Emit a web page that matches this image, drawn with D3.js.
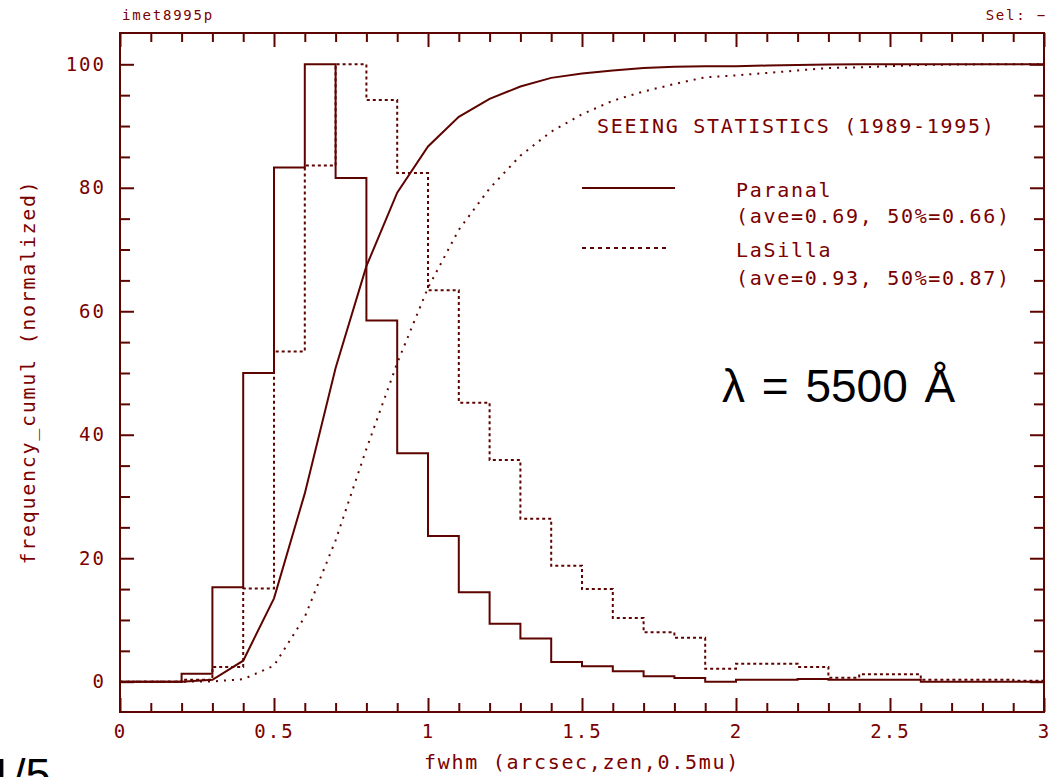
<!DOCTYPE html>
<html>
<head>
<meta charset="utf-8">
<script src="https://cdn.jsdelivr.net/npm/d3@7"></script>
<style>
  body { margin: 0; background: #fff; }
  svg { display: block; }
  .mono { font-family: "DejaVu Sans Mono", "Liberation Mono", monospace; fill: #7a0000; }
</style>
</head>
<body>
<div class="seeing"></div>
<script>
// bin edges (arcsec)
const binEdges = [0, 0.1, 0.2, 0.3, 0.4, 0.5, 0.6, 0.7, 0.8, 0.9, 1.0, 1.1, 1.2, 1.3, 1.4, 1.5,
    1.6, 1.7, 1.8, 1.9, 2.0, 2.1, 2.2, 2.3, 2.4, 2.5, 2.6, 2.7, 2.8, 2.9, 3.0];

// histogram per bin (normalized to 100)
const paranalHist = [0, 0, 1.3, 15.3, 50, 83.3, 100, 81.6, 58.5, 37, 23.6, 14.5, 9.4, 7, 3.2,
    2.5, 1.7, 0.9, 0.6, 0, 0.3, 0.3, 0.45, 0.3, 0.3, 0.3, 0, 0, 0, 0];
const lasillaHist = [0, 0, 0.3, 2.4, 15.1, 53.5, 83.6, 100, 94.2, 82.4, 63.4, 45.2, 35.9, 26.4, 18.8,
    15, 10.3, 8.0, 7.1, 2.1, 2.9, 2.9, 2.4, 0.65, 1.2, 1.2, 0.3, 0.3, 0.3, 0.15];

// cumulative at each bin edge
const paranalCumul = [0, 0, 0, 0.3, 3.4, 13.5, 30.5, 50.8, 67.3, 79.2, 86.7, 91.5, 94.4, 96.4, 97.8,
    98.5, 99.0, 99.4, 99.6, 99.7, 99.7, 99.8, 99.9, 99.95, 100, 100, 100, 100, 100, 100, 100];
const lasillaCumul = [0, 0, 0, 0.05, 0.4, 2.6, 10.5, 22.9, 37.7, 51.6, 63.8, 73.2, 79.9, 85.2, 89.1,
    91.9, 94.1, 95.6, 96.8, 97.9, 98.2, 98.6, 99.0, 99.4, 99.5, 99.7, 99.9, 99.95, 100, 100, 100];

const xMajor = [0, 0.5, 1, 1.5, 2, 2.5, 3];
const xLabels = ["0", "0.5", "1", "1.5", "2", "2.5", "3"];
const yMajor = [0, 20, 40, 60, 80, 100];
const yMinor = [5, 10, 15, 25, 30, 35, 45, 50, 55, 65, 70, 75, 85, 90, 95];

const legendLines = ["Paranal", "(ave=0.69, 50%=0.66)", "LaSilla", "(ave=0.93, 50%=0.87)"];

const W = 1052, H = 777;
const frame = {left: 120, right: 1044, top: 33, bottom: 712};
const ink = "#5e0400";

const svg = d3.select('.seeing').append('svg')
    .attr("width", W)
    .attr("height", H);

const x = d3.scaleLinear().domain([0, 3]).range([frame.left, frame.right]);
const y = d3.scaleLinear().domain([0, 100]).range([681.7, 64.3]);

// frame
svg.append("rect")
    .attr("x", frame.left).attr("y", frame.top)
    .attr("width", frame.right - frame.left)
    .attr("height", frame.bottom - frame.top)
    .attr("fill", "none").attr("stroke", ink).attr("stroke-width", 2);

function styleAxis(g) {
    g.select(".domain").remove();
    g.selectAll("line").attr("stroke", ink).attr("stroke-width", 2);
    g.selectAll("text").attr("class", "mono")
        .attr("font-size", 19).attr("letter-spacing", 2).attr("fill", "#7a0000");
}

const xMinor = binEdges.filter(v => !xMajor.some(m => Math.abs(m - v) < 1e-6));

// bottom
svg.append("g").attr("transform", "translate(0," + frame.bottom + ")")
    .call(d3.axisBottom(x).tickValues(xMajor).tickSize(-14).tickPadding(13)
        .tickFormat((d, i) => xLabels[i]))
    .call(styleAxis);
svg.append("g").attr("transform", "translate(0," + frame.bottom + ")")
    .call(d3.axisBottom(x).tickValues(xMinor).tickSize(-9).tickFormat(""))
    .call(styleAxis);
// top
svg.append("g").attr("transform", "translate(0," + frame.top + ")")
    .call(d3.axisTop(x).tickValues(xMajor).tickSize(-14).tickFormat(""))
    .call(styleAxis);
svg.append("g").attr("transform", "translate(0," + frame.top + ")")
    .call(d3.axisTop(x).tickValues(xMinor).tickSize(-9).tickFormat(""))
    .call(styleAxis);
// left
svg.append("g").attr("transform", "translate(" + frame.left + ",0)")
    .call(d3.axisLeft(y).tickValues(yMajor).tickSize(-14).tickPadding(14))
    .call(styleAxis);
svg.append("g").attr("transform", "translate(" + frame.left + ",0)")
    .call(d3.axisLeft(y).tickValues(yMinor).tickSize(-10).tickFormat(""))
    .call(styleAxis);
// right
svg.append("g").attr("transform", "translate(" + frame.right + ",0)")
    .call(d3.axisRight(y).tickValues(yMajor).tickSize(-14).tickFormat(""))
    .call(styleAxis);
svg.append("g").attr("transform", "translate(" + frame.right + ",0)")
    .call(d3.axisRight(y).tickValues(yMinor).tickSize(-10).tickFormat(""))
    .call(styleAxis);

// histograms as steps
const stepLine = d3.line()
    .x(d => x(d[0]))
    .y(d => y(d[1]))
    .curve(d3.curveStepAfter);

function histPoints(vals) {
    const pts = vals.map((v, i) => [binEdges[i], v]);
    pts.push([binEdges[binEdges.length - 1], vals[vals.length - 1]]);
    return pts;
}

svg.append("path")
    .attr("d", stepLine(histPoints(lasillaHist)))
    .attr("fill", "none").attr("stroke", ink).attr("stroke-width", 2)
    .attr("stroke-dasharray", "3,3");

svg.append("path")
    .attr("d", stepLine(histPoints(paranalHist)))
    .attr("fill", "none").attr("stroke", ink).attr("stroke-width", 2);

// cumulative curves
const cumLine = d3.line()
    .x((d, i) => x(binEdges[i]))
    .y(d => y(d));

svg.append("path")
    .attr("d", cumLine(lasillaCumul))
    .attr("fill", "none").attr("stroke", ink).attr("stroke-width", 2)
    .attr("stroke-dasharray", "2,6");

svg.append("path")
    .attr("d", cumLine(paranalCumul))
    .attr("fill", "none").attr("stroke", ink).attr("stroke-width", 2);

// legend
const legend = svg.append("g");
legend.append("text").attr("class", "mono")
    .attr("x", 597).attr("y", 133)
    .attr("font-size", 20).attr("letter-spacing", 1.7)
    .text("SEEING STATISTICS (1989-1995)");

legend.append("line")
    .attr("x1", 582).attr("x2", 675).attr("y1", 188).attr("y2", 188)
    .attr("stroke", ink).attr("stroke-width", 2);
legend.append("line")
    .attr("x1", 582).attr("x2", 668).attr("y1", 248).attr("y2", 248)
    .attr("stroke", ink).attr("stroke-width", 2).attr("stroke-dasharray", "4,4");

const legendY = [197, 223, 257, 285];
legend.selectAll(".legendText")
    .data(legendLines)
    .enter()
    .append("text")
    .attr("class", "mono legendText")
    .attr("x", 736)
    .attr("y", (d, i) => legendY[i])
    .attr("font-size", 20).attr("letter-spacing", 1.7)
    .text(d => d);

// axis titles
svg.append("text").attr("class", "mono")
    .attr("x", 582).attr("y", 769)
    .attr("text-anchor", "middle")
    .attr("font-size", 20).attr("letter-spacing", 1.7)
    .text("fwhm (arcsec,zen,0.5mu)");

svg.append("text").attr("class", "mono")
    .attr("transform", "translate(35,372) rotate(-90)")
    .attr("text-anchor", "middle")
    .attr("font-size", 20).attr("letter-spacing", 1.7)
    .text("frequency_cumul (normalized)");

// header
svg.append("text").attr("class", "mono")
    .attr("x", 122).attr("y", 20)
    .attr("font-size", 14).attr("letter-spacing", 1.8)
    .text("imet8995p");
svg.append("text").attr("class", "mono")
    .attr("x", 1047).attr("y", 20)
    .attr("text-anchor", "end")
    .attr("font-size", 14).attr("letter-spacing", 1.8)
    .text("Sel: \u2212");

// wavelength annotation
svg.append("text")
    .attr("x", 722).attr("y", 402)
    .attr("font-family", "Liberation Sans, Arial, sans-serif")
    .attr("font-size", 46)
    .attr("word-spacing", 4)
    .attr("fill", "#000")
    .text("\u03bb = 5500 \u00c5");

// page number, partly cut by the bottom edge as in the original slide
svg.append("text")
    .attr("x", -12).attr("y", 790)
    .attr("font-family", "Liberation Sans, Arial, sans-serif")
    .attr("font-size", 45)
    .attr("fill", "#000")
    .text("1/5");
</script>
</body>
</html>
